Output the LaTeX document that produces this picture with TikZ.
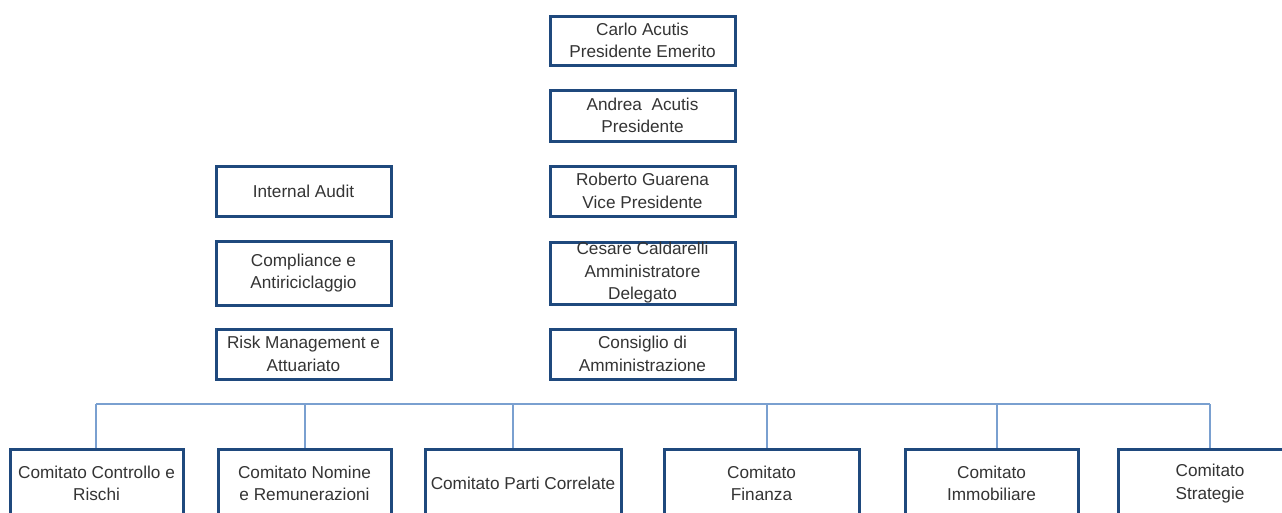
\documentclass[tikz,border=0pt]{standalone}
\usepackage{fontspec}
\setmainfont{Liberation Sans}
\definecolor{boxblue}{RGB}{31,73,125}
\definecolor{linkblue}{RGB}{122,160,208}
\definecolor{txtgray}{RGB}{52,52,52}
\begin{document}
\begin{tikzpicture}[x=1pt,y=-1pt,
  orgbox/.style={draw=boxblue, line width=3pt, fill=white, inner sep=0pt,
    align=center, text=txtgray, font=\fontsize{17.2}{22.5}\selectfont},
  link/.style={draw=linkblue, line width=1.5pt}]
\path[use as bounding box] (0,0) rectangle (1282,512);
\clip (0,0) rectangle (1282,512);

% board and top management column
\node[orgbox, minimum width=185pt, minimum height=49pt] (carlo) at (642.5,40.5) {Carlo Acutis\\Presidente Emerito};
\node[orgbox, minimum width=185pt, minimum height=51pt] (andrea) at (642.5,115.5) {Andrea\ \ Acutis\\Presidente};
\node[orgbox, minimum width=185pt, minimum height=50pt] (roberto) at (642.5,191) {Roberto Guarena\\Vice Presidente};
\node[orgbox, minimum width=185pt, minimum height=62pt] (cesare) at (642.5,273) {Cesare Caldarelli\\Amministratore\\Delegato};
\node[orgbox, minimum width=185pt, minimum height=50pt] (cda) at (642.5,354) {Consiglio di\\Amministrazione};

% control functions
\node[orgbox, minimum width=175pt, minimum height=50pt] (audit) at (303.5,191) {Internal Audit};
\node[orgbox, minimum width=175pt, minimum height=64pt] (compliance) at (303.5,273) {Compliance e\\Antiriciclaggio};
\node[orgbox, minimum width=175pt, minimum height=50pt] (risk) at (303.5,354) {Risk Management e\\Attuariato};

% board committees
\node[orgbox, minimum width=173pt, minimum height=69pt] (c1) at (96.5,483.5) {Comitato Controllo e\\Rischi};
\node[orgbox, minimum width=173pt, minimum height=69pt] (c2) at (304.5,483.5) {Comitato Nomine\\e Remunerazioni};
\node[orgbox, minimum width=196pt, minimum height=69pt] (c3) at (523,483.5) {Comitato Parti Correlate};
\node[orgbox, minimum width=195pt, minimum height=69pt] (c4) at (761.5,483.5) {Comitato\\Finanza};
\node[orgbox, minimum width=173pt, minimum height=69pt] (c5) at (991.5,483.5) {Comitato\\Immobiliare};
\node[orgbox, minimum width=184pt, minimum height=69pt] (c6) at (1210,483.5) {Comitato\\Strategie};

% committee bus and drops
\coordinate (b1) at (96,404);
\coordinate (b2) at (305,404);
\coordinate (b3) at (513,404);
\coordinate (b4) at (767,404);
\coordinate (b5) at (997,404);
\coordinate (b6) at (1210,404);
\draw[link] (b1) -- (b6);
\draw[link] (b1) -- (b1 |- c1.north);
\draw[link] (b2) -- (b2 |- c2.north);
\draw[link] (b3) -- (b3 |- c3.north);
\draw[link] (b4) -- (b4 |- c4.north);
\draw[link] (b5) -- (b5 |- c5.north);
\draw[link] (b6) -- (b6 |- c6.north);
\end{tikzpicture}
\end{document}
